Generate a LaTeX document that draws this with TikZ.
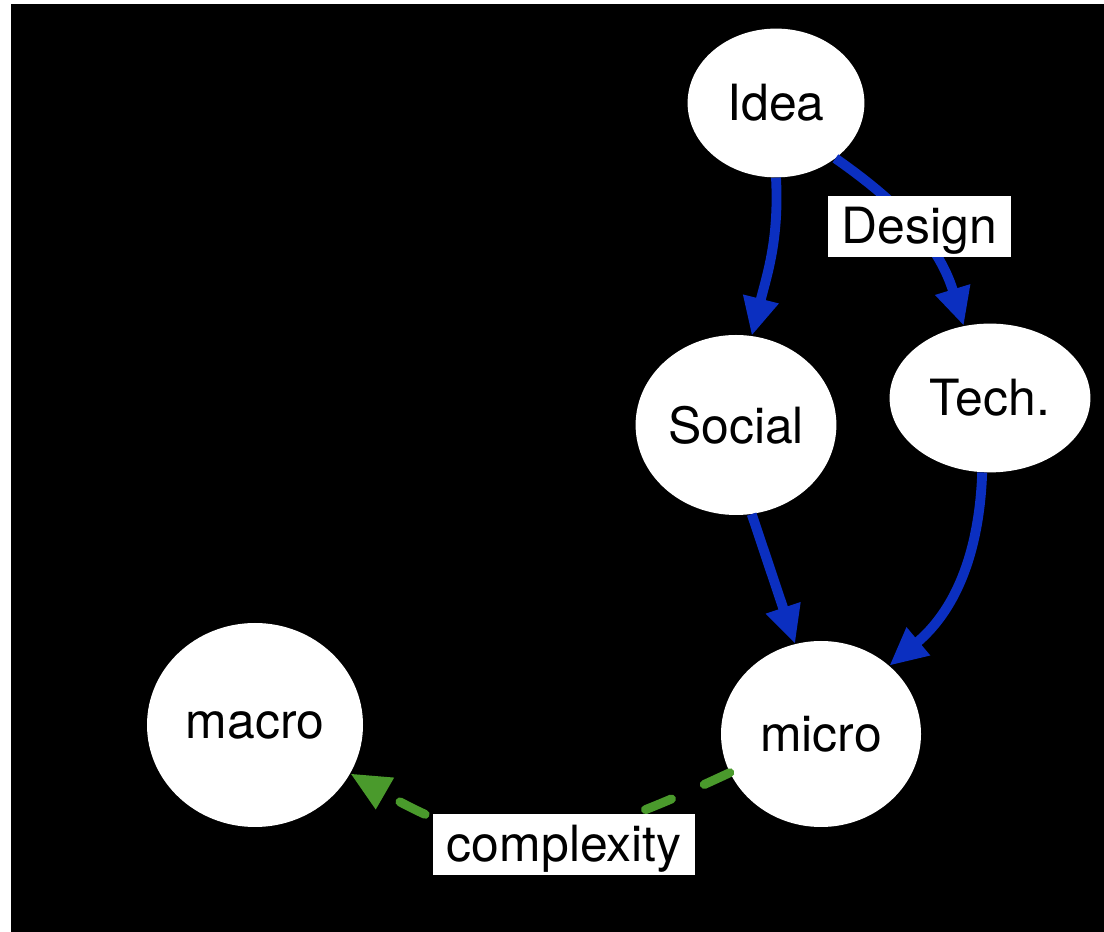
\documentclass[tikz,border=0pt]{standalone}
\usepackage{fontspec}
\setmainfont{TeX Gyre Heros}
\usetikzlibrary{arrows.meta, shapes.geometric}
\definecolor{flwblue}{HTML}{0B2FC0}
\definecolor{flwgreen}{HTML}{4A9A2C}
\tikzset{
  bubble/.style={ellipse, fill=white, inner sep=0pt, text=black,
    font=\fontsize{35.5}{40}\selectfont},
  tag/.style={rectangle, fill=white, inner xsep=0.35cm, inner ysep=0pt, text=black,
    text height=1.2cm, text depth=0.33cm, font=\fontsize{35.5}{40}\selectfont},
  flow/.style={-{Triangle[length=0.95cm, width=0.85cm]}, line width=7pt, flwblue},
  drift/.style={-{Triangle[length=1cm, width=0.85cm]}, line width=6.4pt, flwgreen,
    dash pattern=on 0.7cm off 0.9cm, line cap=round},
}

\begin{document}
\begin{tikzpicture}
  \useasboundingbox (0,0) rectangle (27.6,23.3);
  \fill[white] (0,0) rectangle (27.6,23.3);
  \fill[black] (0.275,0) rectangle (27.6,23.2);

  \node[bubble, minimum width=4.42cm, minimum height=3.72cm] (idea) at (19.40,20.725) {Idea};
  \node[bubble, minimum width=5.02cm, minimum height=4.5cm] (social) at (18.40,12.675) {Social};
  \node[bubble, minimum width=5.02cm, minimum height=3.72cm] (tech) at (24.75,13.35) {Tech.};
  \node[bubble, minimum width=5.0cm, minimum height=4.65cm] (micro) at (20.525,4.95) {micro};
  \node[bubble, minimum width=5.4cm, minimum height=5.1cm] (macro) at (6.375,5.175) {macro};

  \draw[flow] (idea.south) to[out=-87, in=76] (social.80);
  \draw[flow] (idea.-43) to[out=-35, in=107] node[tag, pos=0.53, yshift=0.22cm] {Design} (tech.110);
  \draw[flow] (social.-80) -- (micro.106);
  \draw[flow] (tech.-96) to[out=-92, in=40] (micro.45);
  \draw[drift] (micro.-157) to[out=-155, in=-30, looseness=1.2]
    node[tag, pos=0.42, yshift=-0.3cm] {complexity} (macro.-27);
\end{tikzpicture}
\end{document}
